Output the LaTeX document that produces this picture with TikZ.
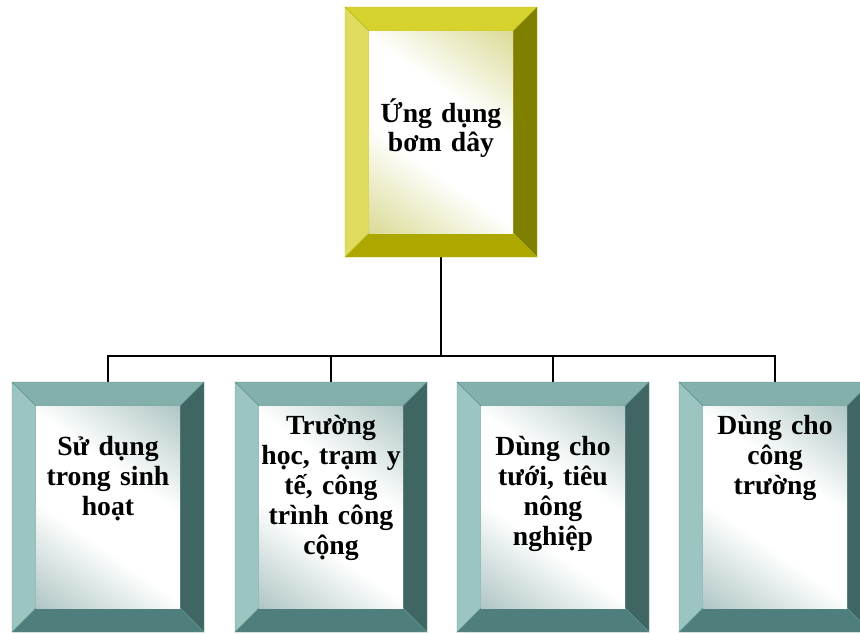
\documentclass[tikz,border=0pt]{standalone}
\usepackage{fontspec}
\setmainfont{Liberation Serif}
\usetikzlibrary{calc}
\definecolor{ttop}{HTML}{84B0AC}
\definecolor{tleft}{HTML}{9CC4C0}
\definecolor{tright}{HTML}{3F6663}
\definecolor{tbot}{HTML}{4F7F7C}
\definecolor{tedge}{HTML}{5F9590}
\definecolor{tin}{HTML}{98B6B4}
\definecolor{ytop}{HTML}{D6D22E}
\definecolor{yleft}{HTML}{E0DC60}
\definecolor{yright}{HTML}{808000}
\definecolor{ybot}{HTML}{ACA800}
\definecolor{yedge}{HTML}{B8B420}
\definecolor{yin}{HTML}{D0D078}
\pgfdeclarehorizontalshading{tealdiag}{100bp}{color(0bp)=(tin); color(8bp)=(tin); color(40bp)=(white); color(60bp)=(white); color(92bp)=(tin); color(100bp)=(tin)}
\pgfdeclarehorizontalshading{yeldiag}{100bp}{color(0bp)=(yin); color(8bp)=(yin); color(40bp)=(white); color(60bp)=(white); color(92bp)=(yin); color(100bp)=(yin)}
\newcommand\bevelbox[7]{%
  % #1 node, #2 top, #3 left, #4 right, #5 bottom, #6 edge, #7 shading
  \path (#1.north west) coordinate (#1A) (#1.north east) coordinate (#1B)
        (#1.south east) coordinate (#1C) (#1.south west) coordinate (#1D);
  \path ($(#1A)+(24,24)$) coordinate (#1a) ($(#1B)+(-24,24)$) coordinate (#1b)
        ($(#1C)+(-24,-24)$) coordinate (#1c) ($(#1D)+(24,-24)$) coordinate (#1d);
  \filldraw[fill=#2,draw=#6,line width=0.4pt] (#1A) -- (#1B) -- (#1b) -- (#1a) -- cycle;
  \filldraw[fill=#4,draw=#6,line width=0.4pt] (#1B) -- (#1C) -- (#1c) -- (#1b) -- cycle;
  \filldraw[fill=#5,draw=#6,line width=0.4pt] (#1C) -- (#1D) -- (#1d) -- (#1c) -- cycle;
  \filldraw[fill=#3,draw=#6,line width=0.4pt] (#1D) -- (#1A) -- (#1a) -- (#1d) -- cycle;
  \shade[shading=#7,shading angle=55] (#1a) rectangle (#1c);
}
\begin{document}
\begin{tikzpicture}[x=1pt,y=-1pt,
  frame/.style={rectangle,minimum width=192pt,minimum height=250pt,inner sep=0pt,outer sep=0pt},
  label/.style={text width=150pt,align=center,anchor=base,inner sep=0pt,
    font=\bfseries\fontsize{27.7}{30}\selectfont},
  conn/.style={line width=2pt,black}]
\useasboundingbox (0,0) rectangle (860,633);
\clip (0,0) rectangle (860,633);
\node[frame] (top) at (441,132) {};
\node[frame] (b1) at (108,507) {};
\node[frame] (b2) at (331,507) {};
\node[frame] (b3) at (553,507) {};
\node[frame] (b4) at (775,507) {};
% connectors
\draw[conn] (top.south) -- ++(0,99) coordinate (j);
\draw[conn] (b1.north) -- (b1.north |- j) -- (b4.north |- j) -- (b4.north);
\draw[conn] (b2.north) -- (b2.north |- j);
\draw[conn] (b3.north) -- (b3.north |- j);
% boxes
\bevelbox{top}{ytop}{yleft}{yright}{ybot}{yedge}{yeldiag}
\bevelbox{b1}{ttop}{tleft}{tright}{tbot}{tedge}{tealdiag}
\bevelbox{b2}{ttop}{tleft}{tright}{tbot}{tedge}{tealdiag}
\bevelbox{b3}{ttop}{tleft}{tright}{tbot}{tedge}{tealdiag}
\bevelbox{b4}{ttop}{tleft}{tright}{tbot}{tedge}{tealdiag}
% texts
\node[label,font=\bfseries\fontsize{27.7}{29}\selectfont] (t0) at (441,122) {Ứng dụng\\bơm dây};
\node[label] (t1) at (108,455) {Sử dụng\\trong sinh\\hoạt};
\node[label] (t2) at (331,434) {Trường\\học, trạm y\\tế, công\\trình công\\cộng};
\node[label] (t3) at (553,455) {Dùng cho\\tưới, tiêu\\nông\\nghiệp};
\node[label] (t4) at (775,434) {Dùng cho\\công\\trường};
\end{tikzpicture}
\end{document}
